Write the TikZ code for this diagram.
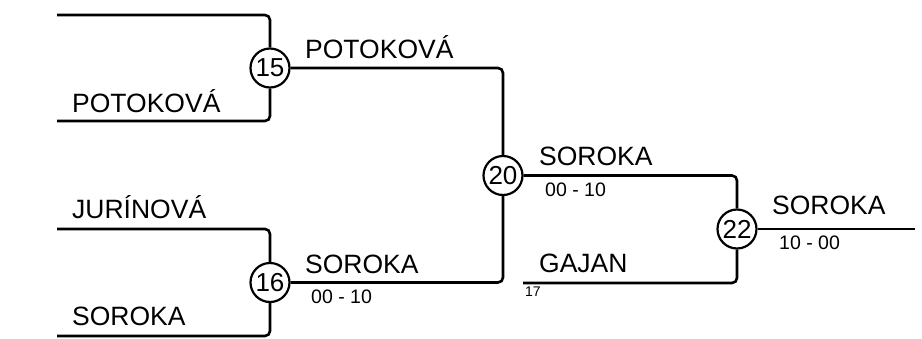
\documentclass[tikz,border=0pt]{standalone}
\usepackage{fontspec}
\setmainfont{Liberation Sans}
\begin{document}
\begin{tikzpicture}[x=1pt,y=-1pt,
  wire/.style={line width=2.6pt,rounded corners=5pt},
  match/.style={circle,draw,line width=2.2pt,fill=white,minimum size=39pt,inner sep=0pt,font=\fontsize{26}{26}\selectfont},
  plname/.style={anchor=base west,inner sep=0pt,font=\fontsize{26.5}{26.5}\selectfont},
  score/.style={anchor=base west,inner sep=0pt,font=\fontsize{19.5}{19.5}\selectfont},
  seed/.style={anchor=base west,inner sep=0pt,font=\fontsize{14}{14}\selectfont}]
\useasboundingbox (0,0) rectangle (922,338);
% match circles
\node[match] (m15) at (270,68) {15};
\node[match] (m16) at (270,282.5) {16};
\node[match] (m20) at (503,175.5) {20};
\node[match] (m22) at (737,229) {22};
% free ends
\coordinate (a1) at (57,15);
\coordinate (a2) at (57,121);
\coordinate (b1) at (57,229);
\coordinate (b2) at (57,336);
\coordinate (g) at (523,283);
\coordinate (fin) at (915,229);
% connectors
\draw[wire] (a1) -| (m15.north);
\draw[wire] (a2) -| (m15.south);
\draw[wire] (b1) -| (m16.north);
\draw[wire] (b2) -| (m16.south);
\draw[wire] (m15.east) -| (m20.north);
\draw[wire] (m16.east) -| (m20.south);
\draw[wire] (m20.east) -| (m22.north);
\draw[wire] (g) -| (m22.south);
\draw[wire] (m22.east) -- (fin);
% labels
\node[plname] (t15a) at (305,58) {POTOKOVÁ};
\node[plname] (t15b) at (72,112) {POTOKOVÁ};
\node[plname] (tj) at (72,218) {JURÍNOVÁ};
\node[plname] (ts) at (72,325) {SOROKA};
\node[plname] (t16) at (305,273) {SOROKA};
\node[score] (s16) at (311,303) {00 - 10};
\node[plname] (t20) at (539,165) {SOROKA};
\node[score] (s20) at (545,196) {00 - 10};
\node[plname] (t22) at (772,214) {SOROKA};
\node[score] (s22) at (779,249) {10 - 00};
\node[plname] (tg) at (539,272) {GAJAN};
\node[seed] (n17) at (525,296) {17};
\end{tikzpicture}
\end{document}
